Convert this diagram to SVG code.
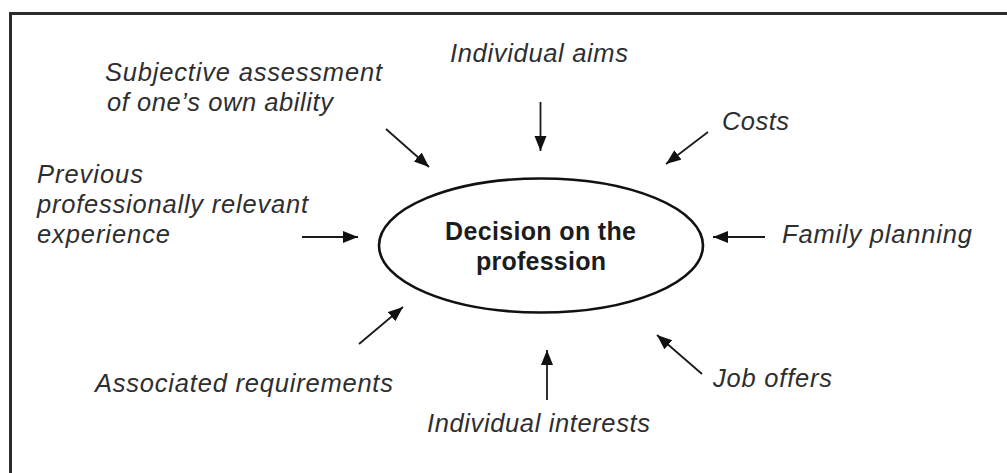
<svg xmlns="http://www.w3.org/2000/svg" width="1007" height="473" viewBox="0 0 1007 473">
  <style>
    .frame { fill: none; stroke: #2b2b2b; stroke-width: 3; }
    .label { font-family: "Liberation Sans", Arial, sans-serif; font-style: italic; font-size: 25.5px; fill: #2e2e2e; }
    .core { font-family: "Liberation Sans", Arial, sans-serif; font-weight: bold; font-size: 25px; fill: #1c1c1c; }
    .hub { fill: #ffffff; stroke: #111111; stroke-width: 2.6; }
    .arrow { stroke: #1a1a1a; stroke-width: 1.8; fill: none; marker-end: url(#head); }
  </style>
  <defs>
    <marker id="head" markerUnits="userSpaceOnUse" markerWidth="16" markerHeight="13" refX="15" refY="6" orient="auto">
      <path d="M0,0 L15,6 L0,12 z" fill="#111111"/>
    </marker>
  </defs>

  <rect x="0" y="0" width="1007" height="473" fill="#ffffff"/>
  <!-- outer border, open to the right and bottom edges -->
  <path class="frame" d="M10.5,480 L10.5,13.5 L1012,13.5"/>

  <g id="decision">
    <ellipse class="hub" cx="541" cy="245.5" rx="162" ry="67"/>
    <text class="core" x="445" y="240" textLength="191" lengthAdjust="spacing">Decision on the</text>
    <text class="core" x="476" y="270" textLength="130" lengthAdjust="spacing">profession</text>
  </g>

  <g id="subjective-assessment">
    <text class="label" x="105" y="81" textLength="277" lengthAdjust="spacing">Subjective assessment</text>
    <text class="label" x="107" y="111" textLength="226" lengthAdjust="spacing">of one’s own ability</text>
  </g>

  <g id="individual-aims">
    <text class="label" x="450" y="62" textLength="178" lengthAdjust="spacing">Individual aims</text>
  </g>

  <g id="costs">
    <text class="label" x="722" y="130" textLength="67" lengthAdjust="spacing">Costs</text>
  </g>

  <g id="previous-experience">
    <text class="label" x="37" y="183" textLength="106" lengthAdjust="spacing">Previous</text>
    <text class="label" x="37" y="213" textLength="271" lengthAdjust="spacing">professionally relevant</text>
    <text class="label" x="37" y="243" textLength="133" lengthAdjust="spacing">experience</text>
  </g>

  <g id="family-planning">
    <text class="label" x="782" y="243" textLength="190" lengthAdjust="spacing">Family planning</text>
  </g>

  <g id="associated-requirements">
    <text class="label" x="95" y="392" textLength="298" lengthAdjust="spacing">Associated requirements</text>
  </g>

  <g id="individual-interests">
    <text class="label" x="427" y="432" textLength="223" lengthAdjust="spacing">Individual interests</text>
  </g>

  <g id="job-offers">
    <text class="label" x="713" y="387" textLength="119" lengthAdjust="spacing">Job offers</text>
  </g>

  <g id="connectors">
    <line class="arrow" x1="386" y1="129" x2="429" y2="167"/>
    <line class="arrow" x1="540.5" y1="102" x2="540.5" y2="151"/>
    <line class="arrow" x1="708" y1="132" x2="666" y2="164"/>
    <line class="arrow" x1="302" y1="237" x2="358" y2="237"/>
    <line class="arrow" x1="765" y1="237" x2="713" y2="237"/>
    <line class="arrow" x1="359" y1="344" x2="403" y2="307"/>
    <line class="arrow" x1="547" y1="400" x2="547" y2="350"/>
    <line class="arrow" x1="702" y1="374" x2="657" y2="335"/>
  </g>
</svg>
